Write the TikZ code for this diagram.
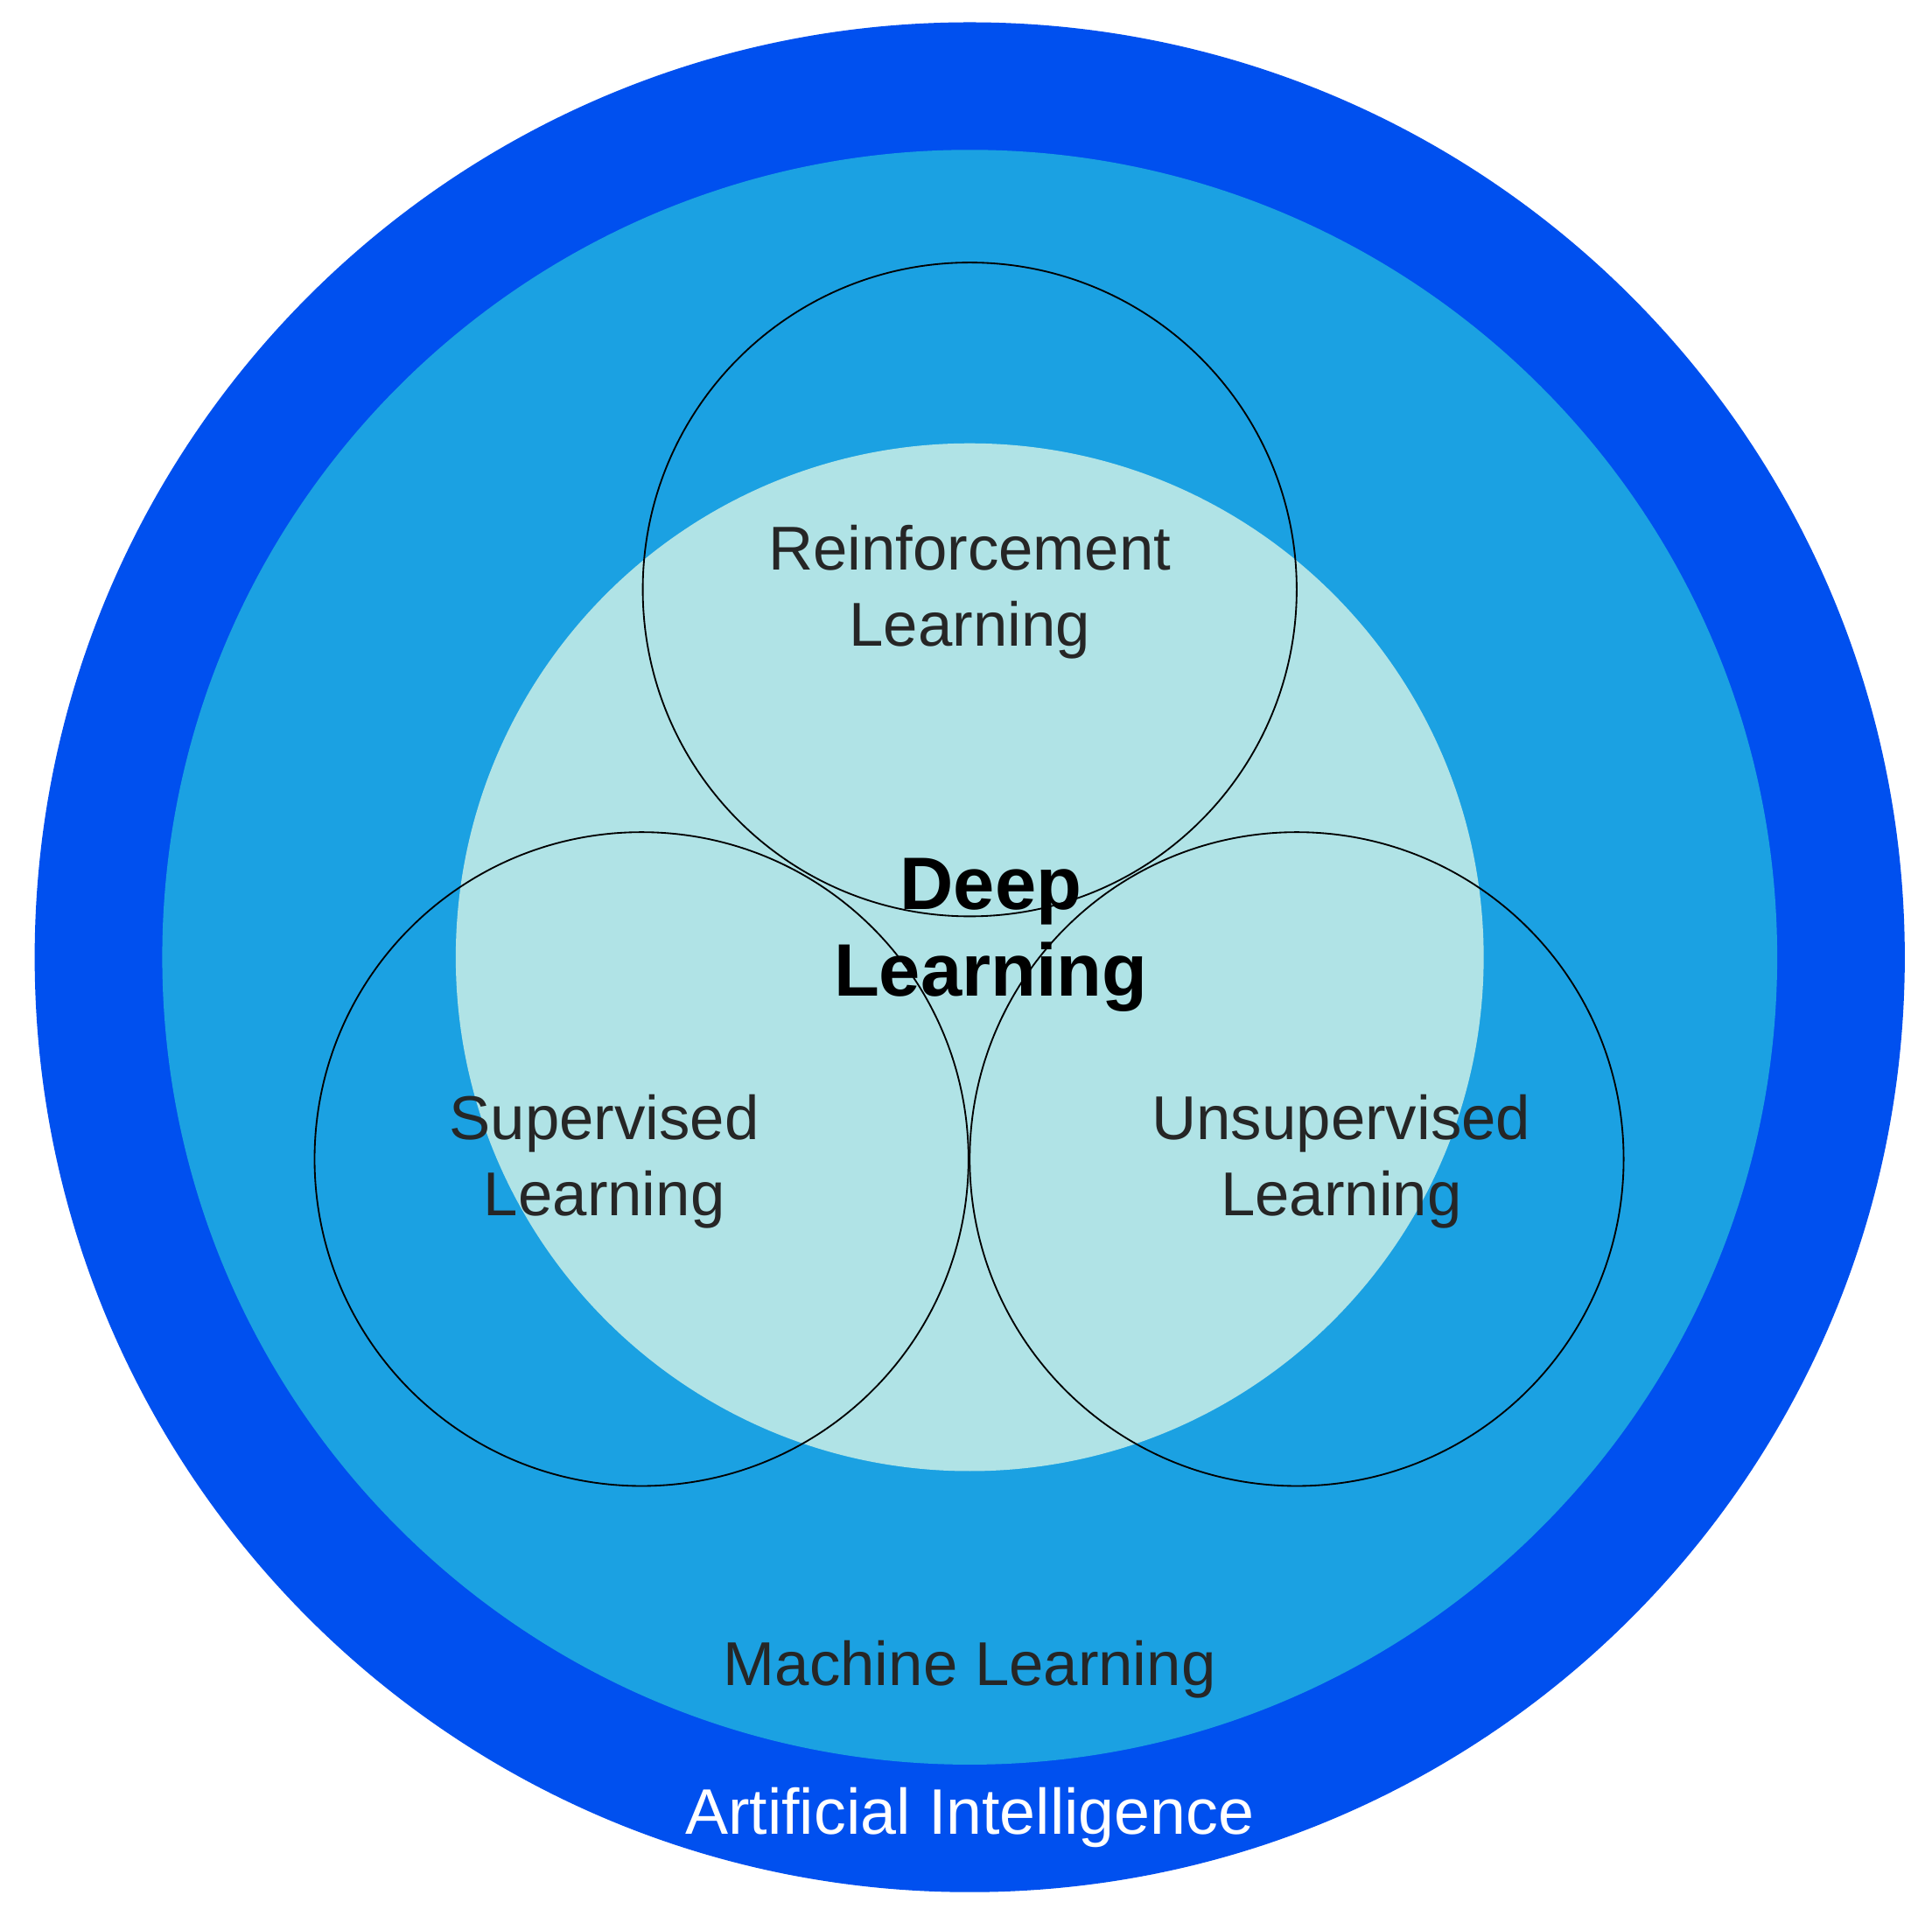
\documentclass[tikz,border=0pt]{standalone}
\usepackage{fontspec}
\setmainfont{Liberation Sans}
\definecolor{aiblue}{RGB}{0,80,239}
\definecolor{mlblue}{RGB}{27,161,226}
\definecolor{dlblue}{RGB}{176,227,230}
\begin{document}
\begin{tikzpicture}[x=1pt,y=-1pt,
  venn/.style={draw=black,line width=1.3pt},
  lbl/.style={align=center,text=black!85,font=\fontsize{50}{61}\selectfont}]
\useasboundingbox (0,0) rectangle (1560,1547);
\fill[white] (0,0) rectangle (1560,1547);
\coordinate (c) at (783,773);
\fill[aiblue] (c) circle[radius=755];
\fill[mlblue] (c) circle[radius=652];
\fill[dlblue] (c) circle[radius=415];
\coordinate (rl) at (783,476);
\coordinate (sl) at (518,936);
\coordinate (ul) at (1047,936);
\draw[venn] (rl) circle[radius=264];
\draw[venn] (sl) circle[radius=264];
\draw[venn] (ul) circle[radius=264];
\node[lbl] (trl) at (783,478) {Reinforcement\\Learning};
\node[lbl] (tsl) at (488,938) {Supervised\\Learning};
\node[lbl] (tul) at (1083,938) {Unsupervised\\Learning};
\node[lbl,font=\bfseries\fontsize{60}{70}\selectfont,text=black] (tdl) at (800,755) {Deep\\Learning};
\node[lbl] (tml) at (783,1348) {Machine Learning};
\node[lbl,text=white,font=\fontsize{52}{60}\selectfont] (tai) at (783,1468) {Artificial Intelligence};
\end{tikzpicture}
\end{document}
